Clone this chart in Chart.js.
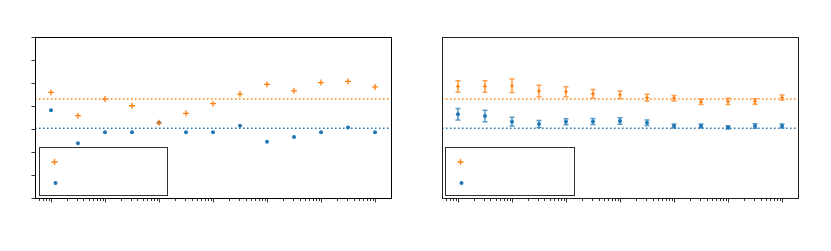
<!DOCTYPE html>
<html>
<head>
<meta charset="utf-8">
<script src="https://cdn.jsdelivr.net/npm/chart.js@4/dist/chart.umd.min.js"></script>
<style>
  body { margin: 0; background: #fff; }
  #wrap { position: relative; width: 831px; height: 251px; }
  canvas { position: absolute; top: 0; }
</style>
</head>
<body>
<div id="wrap">
  <canvas id="leftChart" width="415" height="251" style="left:0"></canvas>
  <canvas id="rightChart" width="416" height="251" style="left:415px"></canvas>
</div>
<script>
// half-decade sample points
const xValues = [1, 3.16, 10, 31.6, 100, 316, 1000, 3162, 10000, 31623, 100000, 316228, 1000000];

const leftOrange = [4.59, 3.58, 4.30, 4.01, 3.27, 3.68, 4.10, 4.52, 4.94, 4.66, 5.02, 5.07, 4.83];
const leftBlue   = [3.82, 2.38, 2.86, 2.86, 3.27, 2.86, 2.86, 3.14, 2.45, 2.65, 2.86, 3.06, 2.86];

const rightOrange    = [4.85, 4.85, 4.88, 4.65, 4.62, 4.53, 4.49, 4.36, 4.34, 4.18, 4.20, 4.20, 4.37];
const rightOrangeErr = [0.25, 0.25, 0.29, 0.25, 0.22, 0.19, 0.16, 0.15, 0.12, 0.11, 0.14, 0.12, 0.11];
const rightBlue      = [3.64, 3.56, 3.32, 3.22, 3.32, 3.33, 3.35, 3.27, 3.13, 3.13, 3.07, 3.13, 3.13];
const rightBlueErr   = [0.25, 0.25, 0.19, 0.15, 0.13, 0.13, 0.14, 0.12, 0.09, 0.09, 0.07, 0.10, 0.09];

const orangeRef = 4.30;
const blueRef = 3.03;

const yTicks = [0, 1, 2, 3, 4, 5, 6, 7];
const xMajorTicks = [1, 10, 100, 1000, 10000, 100000, 1000000];
const xMinorMult = [2, 3, 4, 5, 6, 7, 8, 9];

const X_MIN = 0.506, X_MAX = 1977000;
const ORANGE = '#ff7f0e', BLUE = '#1f77b4';

function pts(ys) { return xValues.map((x, i) => ({ x: x, y: ys[i] })); }

function refLine(y, color) {
  return {
    type: 'line', data: [{ x: X_MIN, y: y }, { x: X_MAX, y: y }],
    borderColor: color, borderWidth: 1.5, borderDash: [1.5, 2.5],
    pointRadius: 0, fill: false, order: 5
  };
}

const decor = {
  id: 'decor',
  beforeDatasetsDraw(chart, args, opts) {
    const ctx = chart.ctx, xs = chart.scales.x, ys = chart.scales.y;
    chart.data.datasets.forEach(ds => {
      if (!ds.errors) return;
      ctx.save();
      ctx.strokeStyle = ds.errColor;
      ctx.lineWidth = 1.5;
      ds.data.forEach((p, i) => {
        const px = xs.getPixelForValue(p.x);
        const t = ys.getPixelForValue(p.y + ds.errors[i]);
        const b = ys.getPixelForValue(p.y - ds.errors[i]);
        ctx.beginPath();
        ctx.moveTo(px, t); ctx.lineTo(px, b);
        ctx.moveTo(px - 2.5, t); ctx.lineTo(px + 2.5, t);
        ctx.moveTo(px - 2.5, b); ctx.lineTo(px + 2.5, b);
        ctx.stroke();
      });
      ctx.restore();
    });
  },
  afterDraw(chart, args, opts) {
    const ctx = chart.ctx, a = chart.chartArea, xs = chart.scales.x, ys = chart.scales.y;
    ctx.save();
    // frame
    ctx.strokeStyle = opts.frame;
    ctx.lineWidth = 1;
    ctx.strokeRect(Math.round(a.left) + 0.5, Math.round(a.top) + 0.5,
      Math.round(a.right - a.left), Math.round(a.bottom - a.top));
    // x ticks
    ctx.strokeStyle = '#000';
    ctx.lineWidth = 0.8;
    const bottom = Math.round(a.bottom) + 1;
    xMajorTicks.forEach(v => {
      const px = Math.round(xs.getPixelForValue(v)) + 0.5;
      ctx.beginPath(); ctx.moveTo(px, bottom); ctx.lineTo(px, bottom + 3.5); ctx.stroke();
    });
    [0.1].concat(xMajorTicks).forEach(dec => {
      xMinorMult.forEach(m => {
        const v = dec * m;
        if (v < X_MIN || v > X_MAX) return;
        const px = Math.round(xs.getPixelForValue(v)) + 0.5;
        ctx.beginPath(); ctx.moveTo(px, bottom); ctx.lineTo(px, bottom + 2); ctx.stroke();
      });
    });
    // y ticks
    if (opts.yTicks) {
      const left = Math.round(a.left);
      yTicks.forEach(v => {
        const py = Math.round(ys.getPixelForValue(v)) + 0.5;
        ctx.beginPath(); ctx.moveTo(left, py); ctx.lineTo(left - 3.5, py); ctx.stroke();
      });
    }
    // legend box (labels are blank in the reference)
    const L = opts.legend;
    ctx.fillStyle = '#fff';
    ctx.fillRect(L.x, L.y, L.w, L.h);
    ctx.strokeStyle = '#333';
    ctx.lineWidth = 1;
    ctx.strokeRect(L.x + 0.5, L.y + 0.5, L.w, L.h);
    ctx.strokeStyle = ORANGE;
    ctx.fillStyle = ORANGE;
    ctx.lineWidth = 1.3;
    Chart.helpers.drawPoint(ctx, { pointStyle: 'cross', radius: 3, borderWidth: 1.3 },
      L.x + 15.5, L.y + 15);
    ctx.fillStyle = BLUE;
    ctx.strokeStyle = BLUE;
    Chart.helpers.drawPoint(ctx, { pointStyle: 'circle', radius: 2, borderWidth: 0 },
      L.x + 16.5, L.y + 36);
    ctx.restore();
  }
};

function makeChart(id, datasets, padding, yTicksOn, frame, legendBox) {
  return new Chart(document.getElementById(id), {
    type: 'scatter',
    data: { datasets: datasets },
    options: {
      responsive: false,
      animation: false,
      layout: { padding: padding },
      scales: {
        x: { type: 'logarithmic', min: X_MIN, max: X_MAX, display: false },
        y: { type: 'linear', min: yTicks[0], max: yTicks[yTicks.length - 1], display: false }
      },
      plugins: {
        legend: { display: false },
        tooltip: { enabled: false },
        decor: { yTicks: yTicksOn, frame: frame, legend: legendBox }
      }
    },
    plugins: [decor]
  });
}

makeChart('leftChart', [
  refLine(orangeRef, ORANGE),
  refLine(blueRef, BLUE),
  { label: 'orange', data: pts(leftOrange), pointStyle: 'cross', pointRadius: 3,
    borderWidth: 1.3, borderColor: ORANGE, backgroundColor: ORANGE, order: 1 },
  { label: 'blue', data: pts(leftBlue), pointStyle: 'circle', pointRadius: 2,
    borderWidth: 0, borderColor: BLUE, backgroundColor: BLUE, order: 2 }
], { left: 35, right: 24, top: 37, bottom: 53 }, true, '#000',
  { x: 39, y: 147, w: 128, h: 48 });

makeChart('rightChart', [
  refLine(orangeRef, ORANGE),
  refLine(blueRef, BLUE),
  { label: 'orange', data: pts(rightOrange), errors: rightOrangeErr, errColor: 'rgba(255,127,14,0.75)',
    pointStyle: 'cross', pointRadius: 2, borderWidth: 1.2,
    borderColor: ORANGE, backgroundColor: ORANGE, order: 1 },
  { label: 'blue', data: pts(rightBlue), errors: rightBlueErr, errColor: 'rgba(31,119,180,0.75)',
    pointStyle: 'circle', pointRadius: 2, borderWidth: 0,
    borderColor: BLUE, backgroundColor: BLUE, order: 2 }
], { left: 27, right: 33, top: 37, bottom: 53 }, false, '#222',
  { x: 30, y: 147, w: 129, h: 48 });
</script>
</body>
</html>
